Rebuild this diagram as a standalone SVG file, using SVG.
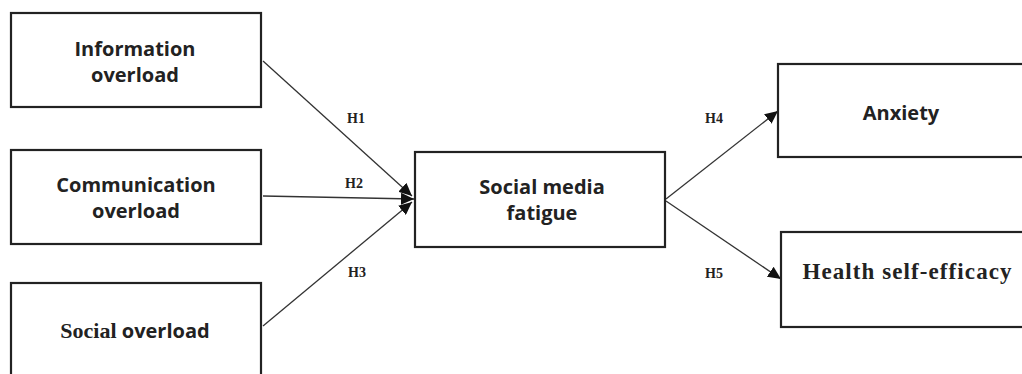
<svg xmlns="http://www.w3.org/2000/svg" width="1022" height="374" viewBox="0 0 1022 374">
<style>
.box{fill:#fff;stroke:#222;stroke-width:2.2}
.lbl{font-family:"Open Sans","Liberation Sans",sans-serif;font-weight:bold;font-size:20px;fill:#222;text-anchor:middle}
.ser{font-family:"Liberation Serif","Times New Roman",serif;font-weight:bold;fill:#222}
.h{font-family:"Liberation Serif","Times New Roman",serif;font-weight:bold;font-size:14px;fill:#222}
.con{stroke:#333;stroke-width:1.3;fill:none;marker-end:url(#ah)}
</style>
<defs>
<marker id="ah" markerUnits="userSpaceOnUse" markerWidth="14" markerHeight="12" refX="13" refY="6" orient="auto">
<path d="M0,0 L13,6 L0,12 Z" fill="#111"/>
</marker>
</defs>
<rect width="1022" height="374" fill="#fff"/>
<g id="connectors">
<line class="con" x1="263" y1="61" x2="412" y2="196"/>
<line class="con" x1="263" y1="196" x2="414" y2="199"/>
<line class="con" x1="263" y1="326" x2="412" y2="202"/>
<line class="con" x1="666" y1="199" x2="778" y2="111"/>
<line class="con" x1="666" y1="201" x2="781" y2="279"/>
<text class="h" x="347" y="123">H1</text>
<text class="h" x="345" y="188">H2</text>
<text class="h" x="348" y="277">H3</text>
<text class="h" x="705" y="123">H4</text>
<text class="h" x="705" y="278">H5</text>
</g>
<g id="info">
<rect class="box" x="11" y="13" width="250" height="94"/>
<text class="lbl" x="135" y="56">Information</text>
<text class="lbl" x="135" y="82">overload</text>
</g>
<g id="comm">
<rect class="box" x="11" y="150" width="250" height="94"/>
<text class="lbl" x="136" y="192">Communication</text>
<text class="lbl" x="136" y="218">overload</text>
</g>
<g id="social">
<rect class="box" x="11" y="283" width="250" height="100"/>
<text class="lbl" x="135" y="338"><tspan class="ser" font-size="22">Social</tspan> overload</text>
</g>
<g id="fatigue">
<rect class="box" x="415" y="152" width="250" height="95"/>
<text class="lbl" x="542" y="194">Social media</text>
<text class="lbl" x="542" y="220">fatigue</text>
</g>
<g id="anxiety">
<rect class="box" x="778" y="64" width="260" height="93"/>
<text class="lbl" x="901" y="120" font-size="21">Anxiety</text>
</g>
<g id="health">
<rect class="box" x="781" y="232" width="260" height="95"/>
<text class="ser" x="907" y="279" font-size="23" text-anchor="middle" textLength="209" lengthAdjust="spacing">Health self-efficacy</text>
</g>
</svg>
